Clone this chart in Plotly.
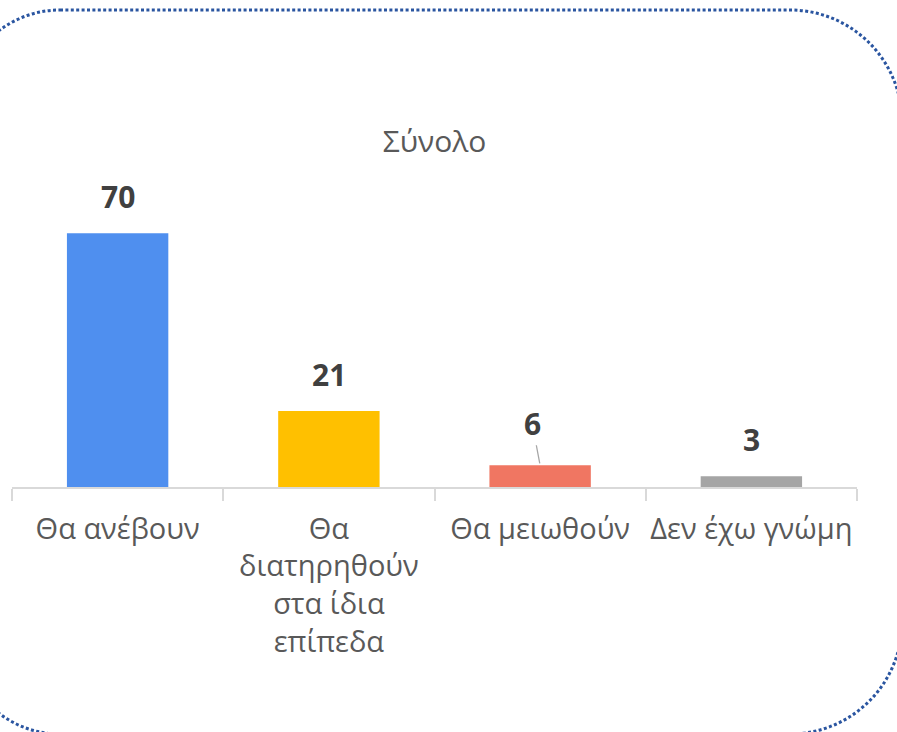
import plotly.graph_objects as go

categories = ["Θα ανέβουν", "Θα διατηρηθούν στα ίδια επίπεδα", "Θα μειωθούν", "Δεν έχω γνώμη"]
tick_labels = ["Θα ανέβουν", "Θα<br>διατηρηθούν<br>στα ίδια<br>επίπεδα", "Θα μειωθούν", "Δεν έχω γνώμη"]
values = [70, 21, 6, 3]
colors = ["#4F8FEF", "#FFC000", "#F07662", "#A5A5A5"]
title_text = "Σύνολο"

W, H = 897, 732
ML = 12
MR = W - 857
MB = H - 487
MT = 487 - 290
FONT = "Open Sans"

fig = go.Figure()
fig.add_trace(go.Bar(
    x=categories, y=values, marker=dict(color=colors, line=dict(width=0)),
    width=0.48, hoverinfo="skip",
))

for i, (c, v) in enumerate(zip(categories, values)):
    if v == 6:
        fig.add_annotation(x=c, y=v, text=f"<b>{v}</b>", showarrow=True,
                           arrowhead=0, arrowwidth=1.3, arrowcolor="#A6A6A6",
                           ax=-8, ay=-42, standoff=2,
                           font=dict(size=30, color="#404040", family=FONT))
    else:
        fig.add_annotation(x=c, y=v, text=f"<b>{v}</b>", showarrow=False,
                           yanchor="bottom", yshift=14,
                           font=dict(size=30, color="#404040", family=FONT))

# rounded dotted frame (pixel geometry converted to paper coords)
pw, ph = W - ML - MR, H - MT - MB
def px(x): return (x - ML) / pw
def py(y): return (H - MB - y) / ph
L, T, R, B = -40, 10, 902, 734
rl, rr = 100, 112
kl, kr = 0.5523 * rl, 0.5523 * rr
pts = [
    ("M", [(L + rl, T)]),
    ("L", [(R - rr, T)]),
    ("C", [(R - rr + kr, T), (R, T + rr - kr), (R, T + rr)]),
    ("L", [(R, B - rr)]),
    ("C", [(R, B - rr + kr), (R - rr + kr, B), (R - rr, B)]),
    ("L", [(L + rl, B)]),
    ("C", [(L + rl - kl, B), (L, B - rl + kl), (L, B - rl)]),
    ("L", [(L, T + rl)]),
    ("C", [(L, T + rl - kl), (L + rl - kl, T), (L + rl, T)]),
]
path = " ".join(cmd + " " + " ".join(f"{px(x):.5f},{py(y):.5f}" for x, y in p) for cmd, p in pts) + " Z"
fig.add_shape(type="path", path=path, xref="paper", yref="paper",
              line=dict(color="#2A55A0", width=3, dash="3px,2.4px"), layer="above")

fig.update_layout(
    width=W, height=H, margin=dict(l=ML, r=MR, t=MT, b=MB, autoexpand=False),
    paper_bgcolor="white", plot_bgcolor="white", showlegend=False,
    font=dict(family=FONT, color="#595959"),
    title=dict(text=title_text, x=0.5, xref="paper", y=1 - 141 / H, yanchor="middle",
               font=dict(size=30, color="#595959", family=FONT)),
    xaxis=dict(tickmode="array", tickvals=categories, ticktext=tick_labels,
               showline=True, linecolor="#D9D9D9", linewidth=1.5,
               ticks="outside", tickson="boundaries", ticklen=12, tickcolor="#D9D9D9",
               tickwidth=1.5, tickfont=dict(size=29, color="#595959", family=FONT),
               ticklabelstandoff=15, tickangle=0, automargin=False,
               range=[-0.5, 3.5], showgrid=False),
    yaxis=dict(range=[0, 80], visible=False, showgrid=False, automargin=False),
)

fig.write_html("out.html", config={"displayModeBar": False},
               post_script="document.body.style.margin='0';document.body.style.overflow='hidden';")
